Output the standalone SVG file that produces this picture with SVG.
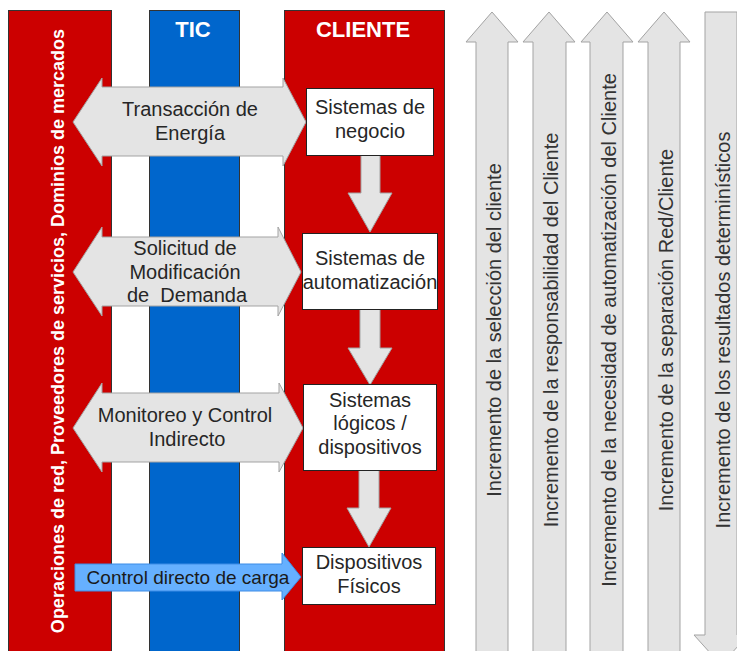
<svg xmlns="http://www.w3.org/2000/svg" width="737" height="651" viewBox="0 0 737 651">
  <style>
    .col { stroke: #333333; stroke-width: 1; }
    .red { fill: #cc0000; }
    .blue { fill: #0066cc; }
    .head { font-family: "Liberation Sans", Arial, sans-serif; font-weight: bold; font-size: 22px; fill: #ffffff; text-anchor: middle; }
    .side { font-family: "Liberation Sans", Arial, sans-serif; font-weight: bold; font-size: 18px; fill: #ffffff; text-anchor: middle; }
    .garrow { fill: #e4e4e4; stroke: #a3a3a3; stroke-width: 1; }
    .barrow { fill: #66b0ff; stroke: #3c8ce6; stroke-width: 1; }
    .box { fill: #ffffff; stroke: #222222; stroke-width: 1; }
    .lbl { font-family: "Liberation Sans", Arial, sans-serif; font-size: 20px; fill: #262626; text-anchor: middle; white-space: pre; }
    .blbl { font-family: "Liberation Sans", Arial, sans-serif; font-size: 19px; fill: #1a1a1a; text-anchor: middle; }
    .vlbl { font-family: "Liberation Sans", Arial, sans-serif; font-size: 20px; fill: #333333; text-anchor: middle; }
  </style>

  <!-- Background columns -->
  <g id="col-operaciones">
    <rect class="col red" x="8.5" y="10.5" width="103" height="660"/>
    <text class="side" transform="translate(64,331) rotate(-90)">Operaciones de red, Proveedores de servicios, Dominios de mercados</text>
  </g>
  <g id="col-tic">
    <rect class="col blue" x="149.5" y="10.5" width="90" height="660"/>
    <text class="head" x="193" y="37">TIC</text>
  </g>
  <g id="col-cliente">
    <rect class="col red" x="284.5" y="10.5" width="160" height="660"/>
    <text class="head" x="363" y="37">CLIENTE</text>
  </g>

  <!-- Connectors: exchanges and downward flow -->
  <g id="connectors">
    <g id="transaccion">
      <polygon class="garrow" points="73,122 102,78 102,87 283,87 283,78 306,122 283,166 283,156 102,156 102,166"/>
      <text class="lbl" x="190" y="116">Transacción de</text>
      <text class="lbl" x="190" y="140">Energía</text>
    </g>
    <g id="solicitud">
      <polygon class="garrow" points="73,272 102,227 102,237 278,237 278,227 301,272 278,316 278,306 102,306 102,316"/>
      <text class="lbl" x="185" y="255">Solicitud de</text>
      <text class="lbl" x="185" y="279">Modificación</text>
      <text class="lbl" x="187" y="302">de  Demanda</text>
    </g>
    <g id="monitoreo">
      <polygon class="garrow" points="73,428 102,383 102,393 279,393 279,383 303,428 279,472 279,462 102,462 102,472"/>
      <text class="lbl" x="185" y="422">Monitoreo y Control</text>
      <text class="lbl" x="187" y="446">Indirecto</text>
    </g>
    <g id="control-directo">
      <polygon class="barrow" points="75,564 282,564 282,553 301,577 282,600 282,591 75,591"/>
      <text class="blbl" x="188" y="584">Control directo de carga</text>
    </g>
    <polygon class="garrow" points="361,155 380,155 380,193 392,193 370,232 348,193 361,193"/>
    <polygon class="garrow" points="360,309 380,309 380,348 392,348 370,385 348,348 360,348"/>
    <polygon class="garrow" points="359,470 379,470 379,508 391,508 369,547 347,508 359,508"/>
  </g>

  <!-- Customer-side system boxes -->
  <g id="sistemas-negocio">
    <rect class="box" x="306.5" y="88.5" width="127" height="67"/>
    <text class="lbl" x="370" y="114">Sistemas de</text>
    <text class="lbl" x="370" y="138">negocio</text>
  </g>
  <g id="sistemas-automatizacion">
    <rect class="box" x="302.5" y="233.5" width="135" height="76"/>
    <text class="lbl" x="370" y="265">Sistemas de</text>
    <text class="lbl" x="370" y="289">automatización</text>
  </g>
  <g id="sistemas-logicos">
    <rect class="box" x="303.5" y="384.5" width="133" height="86"/>
    <text class="lbl" x="370" y="407">Sistemas</text>
    <text class="lbl" x="370" y="430">lógicos /</text>
    <text class="lbl" x="370" y="454">dispositivos</text>
  </g>
  <g id="dispositivos-fisicos">
    <rect class="box" x="302.5" y="547.5" width="133" height="57"/>
    <text class="lbl" x="369" y="569">Dispositivos</text>
    <text class="lbl" x="369" y="593">Físicos</text>
  </g>

  <!-- Trend arrows -->
  <g id="trend-seleccion">
    <polygon class="garrow" points="492,12 518,42 508,42 508,660 476,660 476,42 466,42"/>
    <text class="vlbl" transform="translate(501,330) rotate(-90)">Incremento de la selección del cliente</text>
  </g>
  <g id="trend-responsabilidad">
    <polygon class="garrow" points="549,12 575,42 566,42 566,660 533,660 533,42 523,42"/>
    <text class="vlbl" transform="translate(558,330) rotate(-90)">Incremento de la responsabilidad del Cliente</text>
  </g>
  <g id="trend-automatizacion">
    <polygon class="garrow" points="607,12 633,42 623,42 623,660 590,660 590,42 581,42"/>
    <text class="vlbl" transform="translate(616,330) rotate(-90)">Incremento de la necesidad de automatización del Cliente</text>
  </g>
  <g id="trend-separacion">
    <polygon class="garrow" points="664,12 690,42 680,42 680,660 648,660 648,42 638,42"/>
    <text class="vlbl" transform="translate(673,330) rotate(-90)">Incremento de la separación Red/Cliente</text>
  </g>
  <g id="trend-deterministicos">
    <polygon class="garrow" points="705,12 737,12 737,635 748,635 721,665 694,635 705,635"/>
    <text class="vlbl" transform="translate(730,330) rotate(-90)">Incremento de los resultados determinísticos</text>
  </g>
</svg>
